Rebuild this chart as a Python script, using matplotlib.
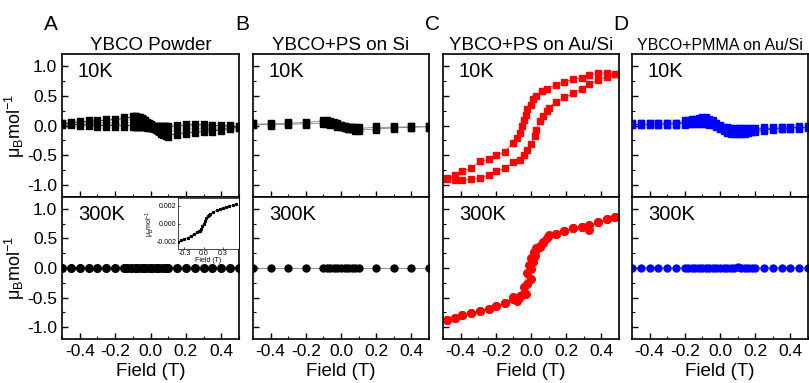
import matplotlib
matplotlib.use('Agg')
import matplotlib.pyplot as plt
from matplotlib.ticker import MultipleLocator

plt.rcParams['font.family'] = ['Liberation Sans', 'DejaVu Sans']
plt.rcParams['mathtext.default'] = 'regular'

# ---- data (field in T, moment in muB/mol) ----
titles = ['YBCO Powder', 'YBCO+PS on Si', 'YBCO+PS on Au/Si', 'YBCO+PMMA on Au/Si']
letters = ['A', 'B', 'C', 'D']

# A, 10K
a10_f = [-0.5, -0.45, -0.4, -0.35, -0.3, -0.25, -0.2, -0.15, -0.1, -0.09, -0.08, -0.07, -0.06,
         -0.05, -0.04, -0.03, -0.02, -0.01, 0.0, 0.01, 0.02, 0.03, 0.04, 0.05, 0.06, 0.07, 0.08,
         0.09, 0.1, 0.15, 0.2, 0.25, 0.3, 0.35, 0.4, 0.45, 0.5]
a10_m1 = [0.03, 0.05, 0.06, 0.07, 0.08, 0.09, 0.10, 0.12, 0.14, 0.14, 0.14, 0.13, 0.12,
          0.11, 0.09, 0.07, 0.05, 0.03, 0.01, -0.02, -0.04, -0.06, -0.08, -0.10, -0.12, -0.14, -0.15,
          -0.16, -0.17, -0.14, -0.12, -0.11, -0.10, -0.09, -0.07, -0.05, -0.03]
a10_m2 = [0.03, 0.02, 0.01, 0.01, 0.0, 0.0, 0.0, 0.0, 0.0, 0.0, 0.0, 0.0, 0.0,
          -0.01, -0.01, -0.01, -0.02, -0.02, -0.02, -0.03, -0.03, -0.03, -0.03, -0.03, -0.03, -0.03, -0.02,
          -0.02, -0.02, 0.0, 0.01, 0.01, 0.01, 0.0, 0.0, -0.01, -0.02]

# B, 10K
b10_f = [-0.5, -0.4, -0.3, -0.2, -0.1, -0.08, -0.06, -0.04, -0.02, 0.0, 0.02, 0.04, 0.06, 0.08,
         0.1, 0.2, 0.3, 0.4, 0.5]
b10_m1 = [0.02, 0.03, 0.04, 0.05, 0.08, 0.07, 0.06, 0.04, 0.02, 0.0, -0.02, -0.04, -0.05, -0.07,
          -0.08, -0.06, -0.04, -0.03, -0.02]
b10_m2 = [0.02, 0.01, 0.02, 0.03, 0.04, 0.04, 0.03, 0.02, 0.0, -0.01, -0.03, -0.04, -0.04, -0.05,
          -0.05, -0.03, -0.03, -0.02, -0.02]

# C, 10K (descending and ascending branches)
c10_fd = [0.48, 0.43, 0.38, 0.33, 0.29, 0.24, 0.19, 0.14, 0.09, 0.06, 0.03, 0.01, 0.0, -0.02,
          -0.03, -0.04, -0.05, -0.06, -0.08, -0.10, -0.15, -0.20, -0.24, -0.29, -0.34, -0.39, -0.43, -0.48]
c10_md = [0.86, 0.88, 0.88, 0.84, 0.80, 0.78, 0.73, 0.68, 0.62, 0.58, 0.49, 0.44, 0.35, 0.27,
          0.18, 0.10, -0.01, -0.12, -0.21, -0.29, -0.44, -0.50, -0.57, -0.60, -0.72, -0.76, -0.83, -0.88]
c10_fu = [-0.48, -0.43, -0.39, -0.34, -0.29, -0.24, -0.20, -0.15, -0.10, -0.06, -0.04, -0.02, 0.0,
          0.02, 0.03, 0.05, 0.07, 0.09, 0.10, 0.14, 0.19, 0.24, 0.29, 0.33, 0.38, 0.43, 0.48]
c10_mu = [-0.89, -0.92, -0.92, -0.90, -0.88, -0.83, -0.77, -0.72, -0.62, -0.58, -0.50, -0.41, -0.31,
          -0.18, -0.07, 0.07, 0.16, 0.24, 0.30, 0.39, 0.47, 0.54, 0.62, 0.69, 0.76, 0.82, 0.86]

# D, 10K
d10_f = [-0.5, -0.45, -0.4, -0.35, -0.3, -0.25, -0.2, -0.18, -0.16, -0.14, -0.12, -0.1, -0.08,
         -0.06, -0.04, -0.02, 0.0, 0.02, 0.04, 0.06, 0.08, 0.1, 0.12, 0.14, 0.16, 0.18, 0.2,
         0.25, 0.3, 0.35, 0.4, 0.45, 0.5]
d10_m1 = [0.02, 0.02, 0.02, 0.02, 0.03, 0.03, 0.07, 0.08, 0.09, 0.10, 0.11, 0.12, 0.12,
          0.10, 0.07, 0.03, -0.01, -0.04, -0.05, -0.06, -0.06, -0.06, -0.06, -0.06, -0.06, -0.06, -0.06,
          -0.05, -0.05, -0.04, -0.04, -0.03, -0.03]
d10_m2 = [0.02, 0.02, 0.02, 0.02, 0.03, 0.03, 0.03, 0.04, 0.04, 0.04, 0.04, 0.04, 0.04,
          0.03, 0.02, 0.0, -0.04, -0.08, -0.11, -0.12, -0.13, -0.13, -0.12, -0.12, -0.11, -0.10, -0.09,
          -0.07, -0.06, -0.05, -0.04, -0.04, -0.03]

# A, 300K
a300_f = [-0.5, -0.45, -0.4, -0.35, -0.3, -0.25, -0.2, -0.15, -0.13, -0.11, -0.09, -0.07, -0.05,
          -0.03, -0.01, 0.01, 0.03, 0.05, 0.07, 0.09, 0.1, 0.15, 0.2, 0.25, 0.3, 0.35, 0.4, 0.45, 0.5]
a300_m = [0.0, 0.0, 0.0, 0.0, 0.0, 0.0, 0.0, 0.0, 0.0, 0.0, 0.0, 0.0, 0.0,
          0.0, 0.0, 0.0, 0.0, 0.0, 0.0, 0.0, 0.0, 0.0, 0.0, 0.0, 0.0, 0.0, 0.0, 0.0, 0.0]

# B, 300K
b300_f = [-0.5, -0.4, -0.3, -0.2, -0.1, -0.08, -0.06, -0.04, -0.02, 0.0, 0.02, 0.04, 0.06, 0.08,
          0.1, 0.2, 0.3, 0.4, 0.5]
b300_m = [0.0, 0.0, 0.0, 0.0, 0.0, 0.0, 0.0, 0.0, 0.0, 0.0, 0.0, 0.0, 0.0, 0.0,
          0.0, 0.0, 0.0, 0.0, 0.0]

# C, 300K
c300_fd = [0.48, 0.43, 0.38, 0.33, 0.29, 0.24, 0.19, 0.14, 0.10, 0.07, 0.05, 0.03, 0.015, 0.0,
           -0.01, -0.02, -0.04, -0.06, -0.08, -0.10, -0.15, -0.20, -0.24, -0.29, -0.34, -0.39, -0.43, -0.48]
c300_md = [0.86, 0.82, 0.78, 0.72, 0.70, 0.67, 0.63, 0.58, 0.55, 0.44, 0.38, 0.33, 0.27, 0.17,
           0.05, -0.08, -0.32, -0.48, -0.55, -0.49, -0.59, -0.64, -0.69, -0.73, -0.76, -0.80, -0.84, -0.88]
c300_fu = [-0.48, -0.43, -0.39, -0.34, -0.29, -0.24, -0.20, -0.15, -0.10, -0.07, -0.05, -0.03,
           -0.02, 0.0, 0.0, 0.01, 0.02, 0.03, 0.05, 0.07, 0.09, 0.14, 0.19, 0.24, 0.29, 0.33, 0.38, 0.43, 0.48]
c300_mu = [-0.88, -0.84, -0.80, -0.76, -0.73, -0.69, -0.64, -0.59, -0.52, -0.50, -0.45, -0.44,
           -0.27, -0.18, -0.01, 0.10, 0.20, 0.30, 0.36, 0.42, 0.51, 0.58, 0.63, 0.67, 0.70, 0.65, 0.78, 0.82, 0.86]

# D, 300K
d300_f = [-0.5, -0.45, -0.4, -0.35, -0.3, -0.25, -0.2, -0.18, -0.16, -0.14, -0.12, -0.1, -0.08,
          -0.06, -0.04, -0.02, 0.0, 0.02, 0.04, 0.06, 0.08, 0.1, 0.12, 0.14, 0.16, 0.18, 0.2,
          0.25, 0.3, 0.35, 0.4, 0.45, 0.5]
d300_m = [0.0, 0.0, 0.0, 0.0, 0.0, 0.0, 0.0, 0.0, 0.0, 0.0, 0.0, 0.0, 0.0,
          0.0, 0.0, 0.0, 0.0, 0.0, 0.0, 0.0, 0.0, 0.01, 0.0, 0.0, 0.0, 0.0, 0.0,
          0.0, 0.0, 0.0, 0.0, 0.0, 0.0]

# inset of A 300K
ins_f = [-0.4, -0.35, -0.3, -0.25, -0.2, -0.15, -0.1, -0.08, -0.06, -0.04, -0.02, 0.0, 0.02,
         0.04, 0.06, 0.08, 0.1, 0.15, 0.2, 0.25, 0.3, 0.35, 0.4, 0.45, 0.5]
ins_m = [-0.0021, -0.0019, -0.0018, -0.0016, -0.0014, -0.0012, -0.0010, -0.0009, -0.0008, -0.0006,
         -0.0003, 0.0, 0.0003, 0.0006, 0.0008, 0.0010, 0.0011, 0.0013, 0.0015, 0.0016, 0.0018,
         0.0019, 0.0020, 0.0021, 0.0022]

W, H = 809, 383
fig = plt.figure(figsize=(W / 100, H / 100), dpi=100)

lefts = [62, 253, 443, 632]
widths = [177, 176, 176, 176]
rect_mk = [(-0.33, -0.5), (0.33, -0.5), (0.33, 0.5), (-0.33, 0.5), (-0.33, -0.5)]


def style(ax, bottom_row, first):
    ax.set_xlim(-0.5, 0.5)
    ax.set_ylim(-1.2, 1.2)
    ax.xaxis.set_major_locator(MultipleLocator(0.2))
    ax.xaxis.set_minor_locator(MultipleLocator(0.1))
    ax.yaxis.set_major_locator(MultipleLocator(0.5))
    ax.yaxis.set_minor_locator(MultipleLocator(0.25))
    ax.tick_params(which='both', direction='in', top=False, right=False, labelsize=12.5)
    ax.tick_params(which='major', length=4, width=1)
    ax.tick_params(which='minor', length=2.5, width=0.8)
    for s in ax.spines.values():
        s.set_linewidth(1.2)
    if bottom_row:
        ax.set_xticks([-0.4, -0.2, 0.0, 0.2, 0.4])
        ax.set_xticklabels(['-0.4', '-0.2', '0.0', '0.2', '0.4'])
        ax.set_xlabel('Field (T)', fontsize=13.5, labelpad=3)
    else:
        ax.tick_params(labelbottom=False)
    if first:
        ax.set_yticks([-1.0, -0.5, 0.0, 0.5, 1.0])
        ax.set_yticklabels(['-1.0', '-0.5', '0.0', '0.5', '1.0'])
        ax.set_ylabel(r'$\mu_B$mol$^{-1}$', fontsize=13, labelpad=0)
    else:
        ax.tick_params(labelleft=False)


top_axes = []
bot_axes = []
for i in range(4):
    l = lefts[i] / W
    w = widths[i] / W
    at = fig.add_axes([l, (H - 197) / H, w, 143 / H])
    ab = fig.add_axes([l, (H - 339) / H, w, 142 / H])
    style(at, False, i == 0)
    style(ab, True, i == 0)
    at.set_title(titles[i], fontsize=13.5 if i < 3 else 11.5, pad=3)
    at.text(0.09, 0.88, '10K', transform=at.transAxes, fontsize=14.5, va='center')
    ab.text(0.09, 0.88, '300K', transform=ab.transAxes, fontsize=14.5, va='center')
    fig.text((lefts[i] - 11) / W, 1 - 24 / H, letters[i], fontsize=15, ha='center', va='center')
    top_axes.append(at)
    bot_axes.append(ab)

# A
ax = top_axes[0]
ax.plot(a10_f, a10_m1, color='k', lw=0.5, marker=rect_mk, ms=5.5, ls='-')
ax.plot(a10_f, a10_m2, color='k', lw=0.5, marker=rect_mk, ms=5.5, ls='-')
ax = bot_axes[0]
ax.plot(a300_f, a300_m, color='k', lw=0.5, marker='o', ms=5.5)

ins = fig.add_axes([178 / W, (H - 249) / H, 61 / W, 51 / H])
ins.plot(ins_f, ins_m, color='k', lw=0.4, marker='s', ms=1.3)
ins.set_xlim(-0.4, 0.55)
ins.set_ylim(-0.0029, 0.0029)
ins.set_xticks([-0.3, 0.0, 0.3])
ins.set_xticklabels(['-0.3', '0.0', '0.3'])
ins.set_yticks([-0.002, 0.0, 0.002])
ins.set_yticklabels(['-0.002', '0.000', '0.002'])
ins.tick_params(direction='in', labelsize=5, length=1.5, width=0.5, pad=1)
ins.set_xlabel('Field (T)', fontsize=5, labelpad=0)
ins.set_ylabel(r'$\mu_B$mol$^{-1}$', fontsize=5, labelpad=0)
for s in ins.spines.values():
    s.set_linewidth(0.5)

# B
ax = top_axes[1]
ax.plot(b10_f, b10_m1, color='gray', lw=0.6, marker=rect_mk, ms=5.5, mfc='k', mec='k')
ax.plot(b10_f, b10_m2, color='gray', lw=0.6, marker=rect_mk, ms=5.5, mfc='k', mec='k')
ax = bot_axes[1]
ax.plot(b300_f, b300_m, color='gray', lw=0.6, marker='o', ms=5, mfc='k', mec='k')

# C
ax = top_axes[2]
ax.plot(c10_fd, c10_md, color='#ff0000', lw=0.5, marker='s', ms=4)
ax.plot(c10_fu, c10_mu, color='#ff0000', lw=0.5, marker='s', ms=4)
ax = bot_axes[2]
ax.plot(c300_fd, c300_md, color='#ff0000', lw=0.5, marker='o', ms=5.5)
ax.plot(c300_fu, c300_mu, color='#ff0000', lw=0.5, marker='o', ms=5.5)

# D
ax = top_axes[3]
ax.plot(d10_f, d10_m1, color='#0000ff', lw=0.5, marker=rect_mk, ms=5.5)
ax.plot(d10_f, d10_m2, color='#0000ff', lw=0.5, marker=rect_mk, ms=5.5)
ax = bot_axes[3]
ax.plot(d300_f, d300_m, color='#0000ff', lw=0.5, marker='o', ms=5)

fig.savefig('out.png', dpi=100)
